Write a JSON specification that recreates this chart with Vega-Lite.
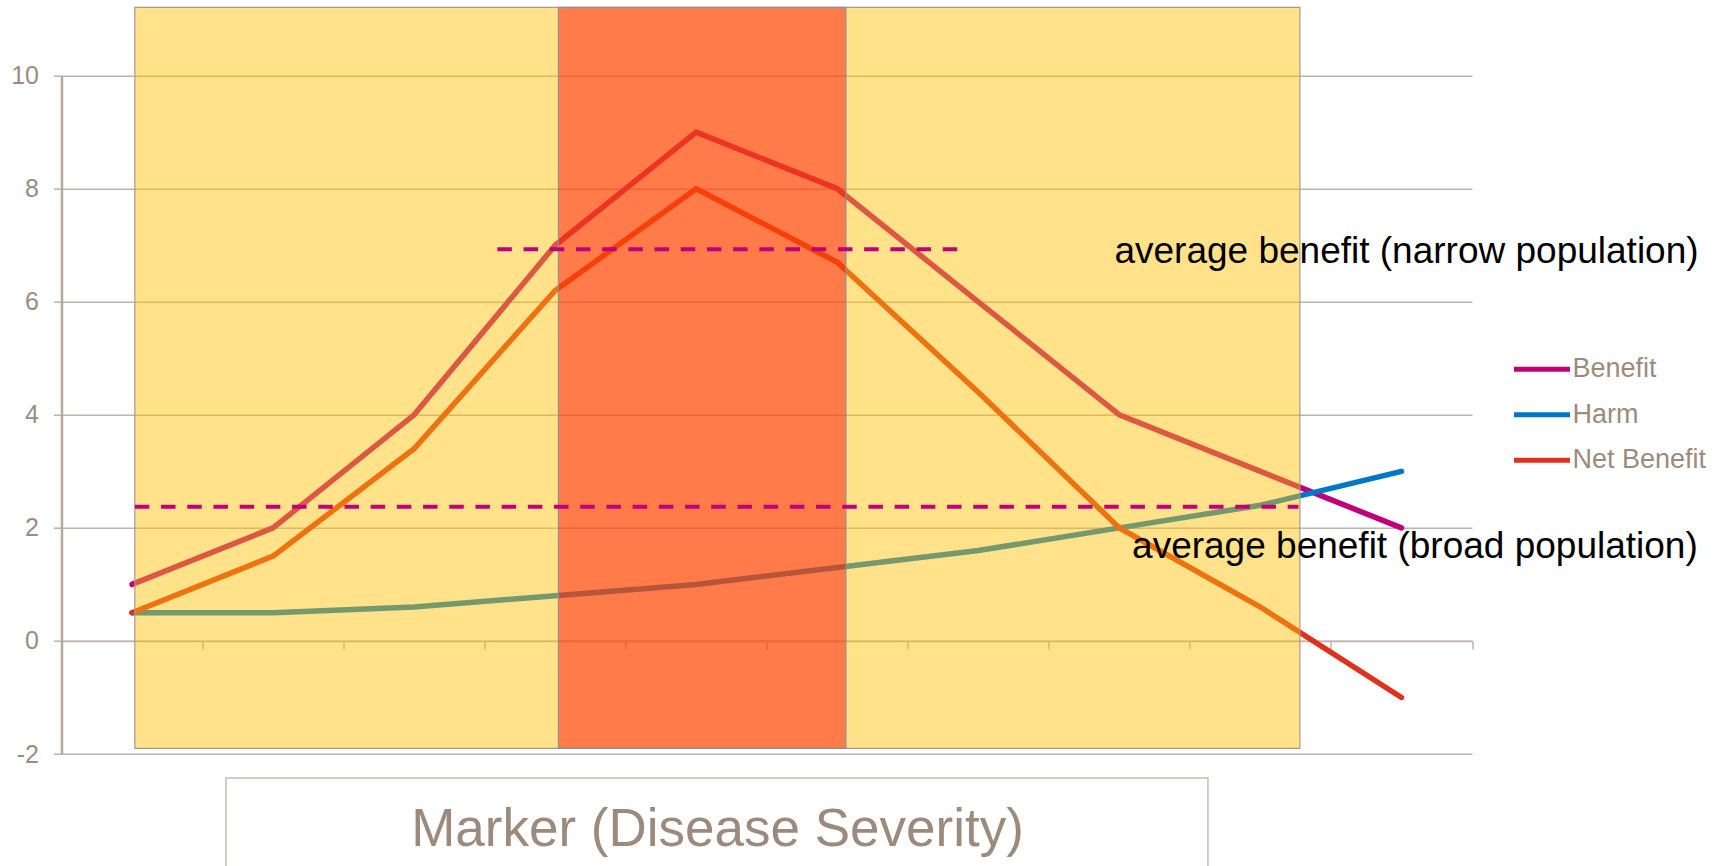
{
  "$schema": "https://vega.github.io/schema/vega-lite/v6.json",
  "width": 1410.5,
  "height": 678.3,
  "autosize": {"type": "none"},
  "padding": {"left": 61.5, "top": 75.7, "right": 249, "bottom": 112},
  "background": "white",
  "config": {"view": {"stroke": null}, "font": "Liberation Sans"},
  "datasets": {
    "series": [
      {"x": 0.5, "value": 1, "series": "Benefit"},
      {"x": 1.5, "value": 2, "series": "Benefit"},
      {"x": 2.5, "value": 4, "series": "Benefit"},
      {"x": 3.5, "value": 7, "series": "Benefit"},
      {"x": 4.5, "value": 9, "series": "Benefit"},
      {"x": 5.5, "value": 8, "series": "Benefit"},
      {"x": 6.5, "value": 6, "series": "Benefit"},
      {"x": 7.5, "value": 4, "series": "Benefit"},
      {"x": 8.5, "value": 3, "series": "Benefit"},
      {"x": 9.5, "value": 2, "series": "Benefit"},
      {"x": 0.5, "value": 0.5, "series": "Harm"},
      {"x": 1.5, "value": 0.5, "series": "Harm"},
      {"x": 2.5, "value": 0.6, "series": "Harm"},
      {"x": 3.5, "value": 0.8, "series": "Harm"},
      {"x": 4.5, "value": 1.0, "series": "Harm"},
      {"x": 5.5, "value": 1.3, "series": "Harm"},
      {"x": 6.5, "value": 1.6, "series": "Harm"},
      {"x": 7.5, "value": 2.0, "series": "Harm"},
      {"x": 8.5, "value": 2.4, "series": "Harm"},
      {"x": 9.5, "value": 3.0, "series": "Harm"},
      {"x": 0.5, "value": 0.5, "series": "Net Benefit"},
      {"x": 1.5, "value": 1.5, "series": "Net Benefit"},
      {"x": 2.5, "value": 3.4, "series": "Net Benefit"},
      {"x": 3.5, "value": 6.2, "series": "Net Benefit"},
      {"x": 4.5, "value": 8.0, "series": "Net Benefit"},
      {"x": 5.5, "value": 6.7, "series": "Net Benefit"},
      {"x": 6.5, "value": 4.4, "series": "Net Benefit"},
      {"x": 7.5, "value": 2.0, "series": "Net Benefit"},
      {"x": 8.5, "value": 0.6, "series": "Net Benefit"},
      {"x": 9.5, "value": -1.0, "series": "Net Benefit"}
    ],
    "broadZone": [{"x0": 0.52, "x1": 8.78, "y0": -1.9, "y1": 11.21}],
    "narrowZone": [{"x0": 3.523, "x1": 5.561, "y0": -1.9, "y1": 11.21}],
    "averages": [
      {"label": "average benefit (narrow population)", "x0": 3.09, "x1": 6.40, "y": 6.93, "tx": 7.465, "ty": 6.69},
      {"label": "average benefit (broad population)", "x0": 0.52, "x1": 8.77, "y": 2.376, "tx": 7.59, "ty": 1.47}
    ],
    "titleBox": [{"x0": 1.166, "x1": 8.128, "y0": -2.425, "y1": -4.3}]
  },
  "layer": [
    {
      "data": {"name": "series"},
      "mark": {"type": "line", "strokeWidth": 5.5, "strokeCap": "round"},
      "encoding": {
        "x": {
          "field": "x", "type": "quantitative",
          "scale": {"domain": [0, 10], "nice": false, "zero": false},
          "axis": {
            "values": [1, 2, 3, 4, 5, 6, 7, 8, 9, 10],
            "labels": false, "grid": false,
            "tickSize": 8, "tickWidth": 1.5, "tickColor": "#BFB3A8",
            "domainColor": "#BFB3A8", "domainWidth": 1.5,
            "offset": -113,
            "title": "Marker (Disease Severity)",
            "titleFontSize": 53, "titleFontWeight": "normal", "titleColor": "#9C8B7D",
            "titleX": 655.5, "titleY": 204, "titleAlign": "center", "titleBaseline": "alphabetic"
          }
        },
        "y": {
          "field": "value", "type": "quantitative",
          "scale": {"domain": [-2, 10], "nice": false, "zero": false},
          "axis": {
            "values": [-2, 0, 2, 4, 6, 8, 10],
            "labelExpr": "datum.value + ''",
            "grid": true, "gridColor": "#BFB3A8", "gridWidth": 1.5,
            "tickSize": 8, "tickWidth": 1.5, "tickColor": "#BFB3A8",
            "domainColor": "#B5A99E", "domainWidth": 2.5,
            "labelFontSize": 25, "labelColor": "#9C8C80", "labelPadding": 15,
            "title": null
          }
        },
        "color": {
          "field": "series", "type": "nominal",
          "scale": {"domain": ["Benefit", "Harm", "Net Benefit"], "range": ["#C00078", "#0077C8", "#E0301E"]},
          "legend": {
            "orient": "none", "legendX": 1450, "legendY": 263, "title": null,
            "padding": 0,
            "symbolType": "stroke", "symbolSize": 3136, "symbolStrokeWidth": 5,
            "labelFontSize": 27, "labelColor": "#9C8B7D", "labelOffset": 0,
            "rowPadding": 1.5
          }
        }
      }
    },
    {
      "data": {"name": "broadZone"},
      "mark": {"type": "rect", "fill": "#FFC000", "fillOpacity": 0.46, "stroke": "#A89A8A", "strokeWidth": 1.2},
      "encoding": {
        "x": {"field": "x0", "type": "quantitative"},
        "x2": {"field": "x1"},
        "y": {"field": "y0", "type": "quantitative"},
        "y2": {"field": "y1"}
      }
    },
    {
      "data": {"name": "narrowZone"},
      "mark": {"type": "rect", "fill": "#FF0A05", "fillOpacity": 0.48, "stroke": "#909090", "strokeWidth": 1.2},
      "encoding": {
        "x": {"field": "x0", "type": "quantitative"},
        "x2": {"field": "x1"},
        "y": {"field": "y0", "type": "quantitative"},
        "y2": {"field": "y1"}
      }
    },
    {
      "data": {"name": "averages"},
      "mark": {"type": "rule", "stroke": "#C0007A", "strokeWidth": 4, "strokeDash": [14.5, 11.7]},
      "encoding": {
        "x": {"field": "x0", "type": "quantitative"},
        "x2": {"field": "x1"},
        "y": {"field": "y", "type": "quantitative"}
      }
    },
    {
      "data": {"name": "averages"},
      "mark": {"type": "text", "align": "left", "baseline": "alphabetic", "fontSize": 37, "color": "#000000"},
      "encoding": {
        "x": {"field": "tx", "type": "quantitative"},
        "y": {"field": "ty", "type": "quantitative"},
        "text": {"field": "label"}
      }
    },
    {
      "data": {"name": "titleBox"},
      "mark": {"type": "rect", "fill": null, "stroke": "#C5BBB2", "strokeWidth": 1.5},
      "encoding": {
        "x": {"field": "x0", "type": "quantitative"},
        "x2": {"field": "x1"},
        "y": {"field": "y0", "type": "quantitative"},
        "y2": {"field": "y1"}
      }
    }
  ]
}
